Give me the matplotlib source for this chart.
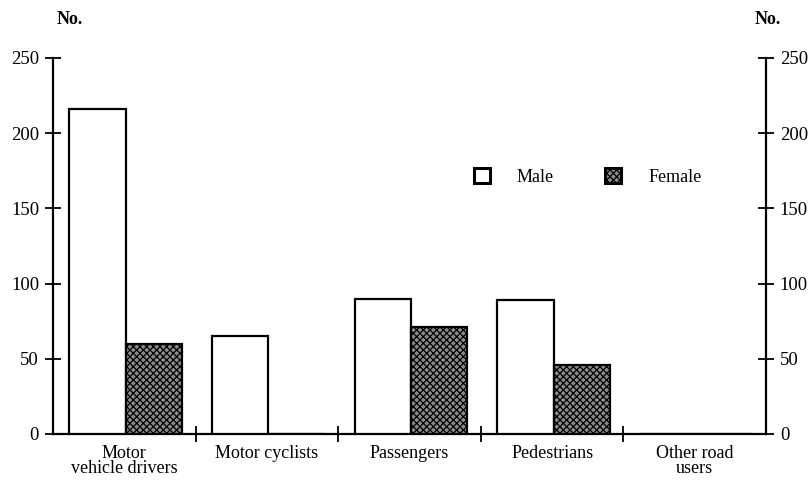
import matplotlib
matplotlib.use("Agg")
import matplotlib.pyplot as plt
from matplotlib.patches import Patch
import numpy as np

categories = ["Motor\nvehicle drivers", "Motor cyclists", "Passengers", "Pedestrians", "Other road\nusers"]
male = [216, 65, 90, 89, 0]
female = [60, 0, 71, 46, 0]
yticks = [0, 50, 100, 150, 200, 250]

plt.rcParams['font.family'] = ['Liberation Serif', 'DejaVu Serif']
plt.rcParams['hatch.linewidth'] = 0.9

fig = plt.figure(figsize=(8.12, 4.84), dpi=100)
ax = fig.add_axes([53/812, 1-434/484, (766-53)/812, (434-58)/484])

idx = np.arange(len(categories))
w = 0.395
ax.bar(idx + 0.51 - w/2, male, width=w, facecolor='white', edgecolor='black', linewidth=1.6, zorder=3)
ax.bar(idx + 0.51 + w/2, female, width=w, facecolor='#8c8c8c', edgecolor='black', linewidth=1.6,
       hatch='xxxxx', zorder=3)

ax.set_xlim(0, len(categories))
ax.set_ylim(0, 250)
ax.spines['top'].set_visible(False)
for s in ['left', 'right', 'bottom']:
    ax.spines[s].set_linewidth(1.6)

ax.set_yticks(yticks)
ax.set_yticklabels([str(v) for v in yticks], fontsize=13.5)
ax.tick_params(axis='y', direction='inout', length=12, width=1.3, left=True, right=True,
               labelleft=True, labelright=True, pad=4)
ax.set_xticks(idx[1:])
ax.set_xticklabels([])
ax.tick_params(axis='x', direction='inout', length=12, width=1.3)

for i, c in enumerate(categories):
    ax.text(i + 0.5, -7, c, ha='center', va='top', fontsize=13, linespacing=0.85)

fig.text(57/812, 1-20/484, "No.", ha='left', va='center', fontsize=13, fontweight='bold')
fig.text(755/812, 1-20/484, "No.", ha='left', va='center', fontsize=13, fontweight='bold')

handles = [Patch(facecolor='white', edgecolor='black', linewidth=2.2, label='Male'),
           Patch(facecolor='#8c8c8c', edgecolor='black', linewidth=2.2, hatch='xxxxx', label='Female')]
ax.legend(handles=handles, loc='center left', bbox_to_anchor=(0.590, 171/250), ncol=2, frameon=False,
          fontsize=13, handlelength=0.9, handleheight=0.9, columnspacing=2.8, handletextpad=1.5,
          borderaxespad=0, borderpad=0)

fig.savefig("out.png", dpi=100)
